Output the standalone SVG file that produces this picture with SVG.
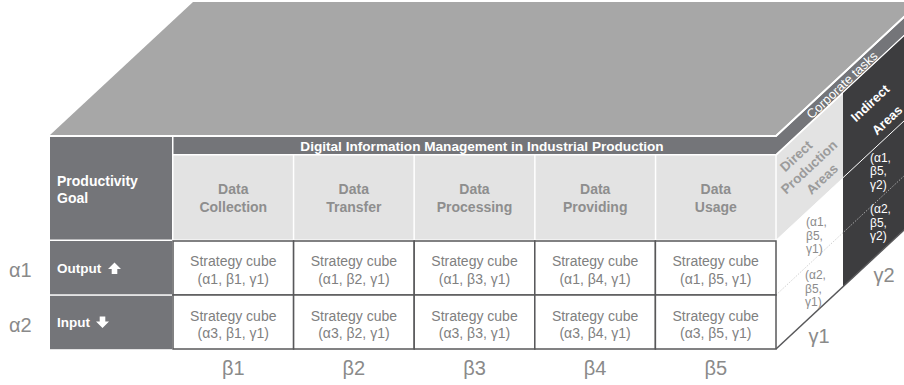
<svg xmlns="http://www.w3.org/2000/svg" width="904" height="385" viewBox="0 0 904 385">
<style>
text{font-family:"Liberation Sans",Arial,sans-serif}
.dk{fill:#747579}
.hd{fill:#e3e3e3}
.cell{fill:#fff;stroke:#58585a;stroke-width:1.5}
.ht{font-size:14px;font-weight:bold;fill:#8e8e8e;text-anchor:middle}
.ct{font-size:14px;fill:#808080;text-anchor:middle}
.wt{font-size:13.5px;font-weight:bold;fill:#fff}
.gr{font-size:20px;fill:#8a8a8a}
.grm{font-size:20px;fill:#8a8a8a;text-anchor:middle}
.sm{font-size:12px;fill:#8c8c8c}
.smw{font-size:12px;fill:#fff}
.rt{font-size:13.5px;font-weight:bold;fill:#9b9b9b;text-anchor:middle}
.rtw{font-size:13px;font-weight:bold;fill:#fff;text-anchor:middle}
.ctk{font-size:13px;fill:#fff;text-anchor:middle}
.wl{stroke:#fff;fill:none}
</style>

<g id="top-face">
  <polygon points="50,135 776,135 919,2 193,2" fill="#a7a7a7"/>
</g>

<g id="right-face">
  <polygon id="corporate-strip" class="dk" points="776,137 919,4 919,21 776,154"/>
  <polygon id="direct-header" class="hd" points="776.75,155.5 843,93.9 843,177.7 776.75,239.3"/>
  <polygon id="direct-cells" fill="#fff" points="776,240 843,177.7 843,286.7 776,349"/>
  <polygon id="indirect" fill="#3d3d3f" points="843,92.7 919,22 919,216 843,286.7"/>
  <polyline class="wl" stroke-width="2" points="50,136 776,136 919,3"/>
  <line class="wl" stroke-width="1.2" x1="776" y1="154.6" x2="919" y2="21.6"/>
  <line class="wl" stroke-width="1" x1="843" y1="177.7" x2="919" y2="107"/>
  <line x1="776" y1="295" x2="919" y2="162" stroke="#c4c4c4" stroke-width="0.8" stroke-dasharray="1.5,1.5"/>
  <line x1="776" y1="349" x2="919" y2="216" stroke="#58585a" stroke-width="1.5"/>
  <text class="ctk" transform="translate(842,85) rotate(-43)" y="4.5">Corporate tasks</text>
  <text class="rt" transform="translate(796,156) rotate(-43)" y="4.8">Direct</text>
  <text class="rt" transform="translate(809,167) rotate(-43)" y="4.8">Production</text>
  <text class="rt" transform="translate(822,179) rotate(-43)" y="4.8">Areas</text>
  <text class="rtw" transform="translate(870,103) rotate(-43)" y="4.6">Indirect</text>
  <text class="rtw" transform="translate(887,120) rotate(-43)" y="4.6">Areas</text>
  <text class="sm" x="806" y="226">(α1,</text>
  <text class="sm" x="806" y="239.5">β5,</text>
  <text class="sm" x="806" y="253">γ1)</text>
  <text class="sm" x="805" y="279">(α2,</text>
  <text class="sm" x="805" y="292.5">β5,</text>
  <text class="sm" x="805" y="306">γ1)</text>
  <text class="smw" x="870" y="161.5">(α1,</text>
  <text class="smw" x="870" y="175">β5,</text>
  <text class="smw" x="870" y="188.5">γ2)</text>
  <text class="smw" x="870" y="213">(α2,</text>
  <text class="smw" x="870" y="226.5">β5,</text>
  <text class="smw" x="870" y="240">γ2)</text>
</g>

<g id="left-column">
  <g id="productivity-goal">
    <rect class="dk" x="50" y="137" width="122" height="102.5"/>
    <text class="wt" x="57" y="186" style="font-size:14px">Productivity</text>
    <text class="wt" x="57" y="203" style="font-size:14px">Goal</text>
  </g>
  <g id="output">
    <rect class="dk" x="50" y="241" width="122" height="53.3"/>
    <text class="wt" x="57" y="273">Output</text>
    <polygon fill="#fff" points="114.5,262.5 121,269 117.3,269 117.3,274 111.7,274 111.7,269 108,269"/>
  </g>
  <g id="input">
    <rect class="dk" x="50" y="295.8" width="122" height="53.4"/>
    <text class="wt" x="57" y="327">Input</text>
    <polygon fill="#fff" points="99.7,316.5 105.3,316.5 105.3,321.5 109,321.5 102.5,328 96,321.5 99.7,321.5"/>
  </g>
</g>

<g id="band">
  <rect class="dk" x="173.5" y="137" width="602.5" height="17"/>
  <text class="wt" x="482" y="150.5" text-anchor="middle" style="font-size:13.6px">Digital Information Management in Industrial Production</text>
</g>

<g id="headers">
  <g id="h-collection"><rect class="hd" x="173.5" y="155.5" width="119.3" height="84"/><text class="ht" x="233.3" y="194">Data</text><text class="ht" x="233.3" y="212">Collection</text></g>
  <g id="h-transfer"><rect class="hd" x="294.3" y="155.5" width="119.1" height="84"/><text class="ht" x="353.8" y="194">Data</text><text class="ht" x="353.8" y="212">Transfer</text></g>
  <g id="h-processing"><rect class="hd" x="414.9" y="155.5" width="119.2" height="84"/><text class="ht" x="474.5" y="194">Data</text><text class="ht" x="474.5" y="212">Processing</text></g>
  <g id="h-providing"><rect class="hd" x="535.6" y="155.5" width="119.2" height="84"/><text class="ht" x="595.2" y="194">Data</text><text class="ht" x="595.2" y="212">Providing</text></g>
  <g id="h-usage"><rect class="hd" x="656.3" y="155.5" width="119" height="84"/><text class="ht" x="715.8" y="194">Data</text><text class="ht" x="715.8" y="212">Usage</text></g>
</g>

<g id="cells">
  <g id="c11"><rect class="cell" x="173" y="241" width="120.6" height="54"/><text class="ct" x="233.3" y="266">Strategy cube</text><text class="ct" x="233.3" y="284">(α1, β1, γ1)</text></g>
  <g id="c12"><rect class="cell" x="293.6" y="241" width="120.6" height="54"/><text class="ct" x="353.9" y="266">Strategy cube</text><text class="ct" x="353.9" y="284">(α1, β2, γ1)</text></g>
  <g id="c13"><rect class="cell" x="414.2" y="241" width="120.6" height="54"/><text class="ct" x="474.5" y="266">Strategy cube</text><text class="ct" x="474.5" y="284">(α1, β3, γ1)</text></g>
  <g id="c14"><rect class="cell" x="534.8" y="241" width="120.6" height="54"/><text class="ct" x="595.1" y="266">Strategy cube</text><text class="ct" x="595.1" y="284">(α1, β4, γ1)</text></g>
  <g id="c15"><rect class="cell" x="655.4" y="241" width="120.6" height="54"/><text class="ct" x="715.7" y="266">Strategy cube</text><text class="ct" x="715.7" y="284">(α1, β5, γ1)</text></g>
  <g id="c21"><rect class="cell" x="173" y="295" width="120.6" height="54"/><text class="ct" x="233.3" y="320.5">Strategy cube</text><text class="ct" x="233.3" y="338">(α3, β1, γ1)</text></g>
  <g id="c22"><rect class="cell" x="293.6" y="295" width="120.6" height="54"/><text class="ct" x="353.9" y="320.5">Strategy cube</text><text class="ct" x="353.9" y="338">(α3, β2, γ1)</text></g>
  <g id="c23"><rect class="cell" x="414.2" y="295" width="120.6" height="54"/><text class="ct" x="474.5" y="320.5">Strategy cube</text><text class="ct" x="474.5" y="338">(α3, β3, γ1)</text></g>
  <g id="c24"><rect class="cell" x="534.8" y="295" width="120.6" height="54"/><text class="ct" x="595.1" y="320.5">Strategy cube</text><text class="ct" x="595.1" y="338">(α3, β4, γ1)</text></g>
  <g id="c25"><rect class="cell" x="655.4" y="295" width="120.6" height="54"/><text class="ct" x="715.7" y="320.5">Strategy cube</text><text class="ct" x="715.7" y="338">(α3, β5, γ1)</text></g>
</g>

<g id="axis-labels">
  <text class="gr" x="9" y="277">α1</text>
  <text class="gr" x="9" y="332">α2</text>
  <text class="grm" x="233.3" y="375">β1</text>
  <text class="grm" x="353.9" y="375">β2</text>
  <text class="grm" x="474.5" y="375">β3</text>
  <text class="grm" x="595.1" y="375">β4</text>
  <text class="grm" x="715.7" y="375">β5</text>
  <text class="grm" x="819" y="343">γ1</text>
  <text class="grm" x="884" y="282">γ2</text>
</g>
<g id="connectors"></g>
</svg>
